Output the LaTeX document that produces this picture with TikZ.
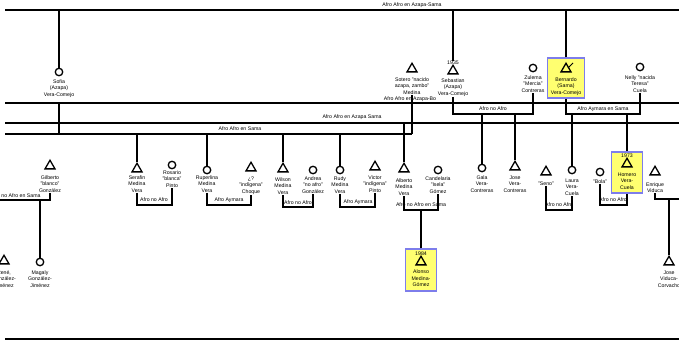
\documentclass[tikz,border=0pt]{standalone}
\usepackage{fontspec}
\setmainfont{Liberation Sans}
\usetikzlibrary{shapes.geometric}
\definecolor{boxyellow}{RGB}{255,255,112}
\definecolor{boxblue}{RGB}{125,125,235}
\tikzset{
  mainline/.style={line width=1.5pt},
  conn/.style={line width=1.25pt},
  brk/.style={line width=1.1pt},
  male/.style={draw, regular polygon, regular polygon sides=3, minimum size=11.5pt, inner sep=0pt, line width=1.3pt},
  female/.style={draw, circle, minimum size=7.5pt, inner sep=0pt, line width=1.3pt},
  txt/.style={font=\fontsize{5.2}{6.6}\selectfont, align=center, inner sep=0.3pt},
  lab/.style={font=\fontsize{5.2}{6.6}\selectfont, inner sep=0.3pt},
  ybox/.style={draw=boxblue, fill=boxyellow, line width=1.1pt, inner sep=0pt},
}
% symbol node, then its caption below: style, name, x, y, caption top, caption
\newcommand{\pers}[6]{%
  \node[#1] (#2) at (#3,#4) {};
  \node[txt, anchor=north] (#2-t) at (#3,#5) {#6};}
\begin{document}
\begin{tikzpicture}[x=1pt,y=-1pt]
\useasboundingbox (0,0) rectangle (679,345);
\clip (0,0) rectangle (679,345);
\fill[white] (0,0) rectangle (679,345);

% long family lines
\coordinate (h1w) at (5,10);   \coordinate (h1e) at (679,10);
\coordinate (h2w) at (5,103);  \coordinate (h2e) at (679,103);
\coordinate (h3w) at (5,123);  \coordinate (h3e) at (679,123);
\coordinate (h4w) at (5,134);  \coordinate (h4e) at (412,134);
\coordinate (bw) at (5,339);   \coordinate (be) at (679,339);
\draw[mainline] (h1w) -- (h1e);
\draw[mainline] (h2w) -- (h2e);
\draw[mainline] (h3w) -- (h3e);
\draw[mainline] (h4w) -- (h4e);
\draw[mainline] (bw) -- (be);
\node[lab] (h1l) at (412,5.5) {Afro Afro en Azapa-Sama};
\node[lab] (h2l) at (410,99) {Afro Afro en Azapa-Bo};
\node[lab] (h3l) at (352,117) {Afro Afro en Azapa Sama};
\node[lab] (h4l) at (240,129) {Afro Afro en Sama};

% top generation
\pers{female}{sofia}{59}{72}{78.8}{Sofia\\(Azapa)\\Vera-Comejo}
\pers{male}{sotero}{412}{69}{76.8}{Sotero "nacido\\azapa, zambo"\\Medina}
\node[txt] (seb-y) at (453,63) {1935};
\pers{male}{sebastian}{453}{71}{77.8}{Sebastian\\(Azapa)\\Vera-Comejo}
\pers{female}{zulema}{533}{68}{74.8}{Zulema\\"Mercia"\\Contreras}
\node[ybox, minimum width=37pt, minimum height=40pt] (bern-b) at (566,78) {};
\pers{male}{bernardo}{566}{69}{76.8}{Bernardo\\(Sama)\\Vera-Comejo}
\draw[line width=0.8pt] (bernardo.center) ++(2,-1) -- ++(5,-5);
\pers{female}{nelly}{640}{67}{74.8}{Nelly "nacida\\Teresa"\\Cuela}

\draw[conn] (sofia.north) -- (sofia.north |- h1w);
\draw[conn] (seb-y.north) -- (seb-y.north |- h1w);
\draw[conn] (bern-b.north) -- (bern-b.north |- h1w);
\draw[conn] (sofia-t.south |- h2w) -- (sofia-t.south |- h4w);
\draw[conn] (sotero-t.south) -- (sotero-t.south |- h4w);

% couples of the top generation
\coordinate (sz) at (493,114);
\draw[brk] (sebastian-t.south) -- (sebastian-t.south |- sz) -- (zulema-t.south |- sz) -- (zulema-t.south);
\node[lab] (szl) at (493,109) {Afro no Afro};
\coordinate (bn) at (603,114);
\draw[brk] (bern-b.south) -- (bern-b.south |- bn) -- (nelly-t.south |- bn) -- (nelly-t.south);
\node[lab] (bnl) at (603,109) {Afro Aymara en Sama};

% second generation
\pers{male}{gilberto}{50}{166}{174.8}{Gilberto\\"blanco"\\González}
\pers{male}{serafin}{137}{169}{174.8}{Serafin\\Medina\\Vera}
\pers{female}{rosario}{172}{165}{169.8}{Rosario\\"blanca"\\Pinto}
\pers{female}{ruperlina}{207}{170}{174.8}{Ruperlina\\Medina\\Vera}
\pers{male}{desc}{251}{168}{176}{¿?\\"indígena"\\Choque}
\pers{male}{wilson}{283}{169}{177}{Wilson\\Medina\\Vera}
\pers{female}{andrea}{313}{170}{176}{Andrea\\"no afro"\\González}
\pers{female}{rudy}{340}{170}{176}{Rudy\\Medina\\Vera}
\pers{male}{victor}{375}{167}{175}{Victor\\"indígena"\\Pinto}
\pers{male}{alberto}{404}{169}{178}{Alberto\\Medina\\Vera}
\pers{female}{candelaria}{438}{170}{176}{Candelaria\\"Isela"\\Gómez}
\pers{female}{gala}{482}{168}{175}{Gala\\Vera-\\Contreras}
\pers{male}{josevc}{515}{167}{175}{Jose\\Vera-\\Contreras}
\pers{male}{seno}{546}{172}{181}{"Seno"}
\pers{female}{laura}{572}{170}{178}{Laura\\Vera-\\Cuela}
\pers{female}{bola}{600}{172}{179}{"Bola"}
\node[ybox, minimum width=31pt, minimum height=41pt] (hom-b) at (627,172.5) {};
\node[txt] (hom-y) at (627,156) {1973};
\pers{male}{homero}{627}{164}{172}{Homero\\Vera-\\Cuela}
\pers{male}{enrique}{655}{172}{182}{Enrique\\Viduca}

\draw[conn] (serafin.north) -- (serafin.north |- h4w);
\draw[conn] (ruperlina.north) -- (ruperlina.north |- h4w);
\draw[conn] (wilson.north) -- (wilson.north |- h4w);
\draw[conn] (rudy.north) -- (rudy.north |- h4w);
\draw[conn] (alberto.north) -- (alberto.north |- h3w);
\draw[conn] (gala.north) -- (gala.north |- sz);
\draw[conn] (josevc.north) -- (josevc.north |- sz);
\draw[conn] (laura.north) -- (laura.north |- bn);
\draw[conn] (hom-b.north) -- (hom-b.north |- bn);

% couples of the second generation
\coordinate (gm) at (0,200);
\draw[brk] (gilberto-t.south) -- (gilberto-t.south |- gm) -- (gm);
\node[lab, anchor=east] (gml) at (41,196) {Afro no Afro en Sama};
\coordinate (sr) at (154,205);
\draw[brk] (serafin-t.south) -- (serafin-t.south |- sr) -- (rosario-t.south |- sr) -- (rosario-t.south);
\node[lab] (srl) at (154,200) {Afro no Afro};
\coordinate (rd) at (229,205);
\draw[brk] (ruperlina-t.south) -- (ruperlina-t.south |- rd) -- (desc-t.south |- rd) -- (desc-t.south);
\node[lab] (rdl) at (229,200) {Afro Aymara};
\coordinate (wa) at (298,207);
\draw[brk] (wilson-t.south) -- (wilson-t.south |- wa) -- (andrea-t.south |- wa) -- (andrea-t.south);
\node[lab] (wal) at (298,202.5) {Afro no Afro};
\coordinate (rv) at (358,207);
\draw[brk] (rudy-t.south) -- (rudy-t.south |- rv) -- (victor-t.south |- rv) -- (victor-t.south);
\node[lab] (rvl) at (358,202.5) {Afro Aymara};
\coordinate (ac) at (421,210);
\draw[brk] (alberto-t.south) -- (alberto-t.south |- ac) -- (candelaria-t.south |- ac) -- (candelaria-t.south);
\node[lab] (acl) at (421,205) {Afro no Afro en Sama};
\coordinate (sl) at (559,210);
\draw[brk] (seno-t.south) -- (seno-t.south |- sl) -- (laura-t.south |- sl) -- (laura-t.south);
\node[lab] (sll) at (559,205) {Afro no Afro};
\coordinate (bh) at (613,205);
\draw[brk] (bola-t.south) -- (bola-t.south |- bh) -- (hom-b.south |- bh) -- (hom-b.south);
\node[lab] (bhl) at (613,200) {Afro no Afro};
\coordinate (en) at (679,199);
\draw[brk] (enrique-t.south) -- (enrique-t.south |- en) -- (en);

% third generation
\pers{male}{rene}{4}{261}{270}{René,\\González-\\Jiménez}
\pers{female}{magaly}{40}{262}{270}{Magaly\\González-\\Jiménez}
\node[ybox, minimum width=31pt, minimum height=42pt] (alo-b) at (421,270) {};
\node[txt] (alo-y) at (421,254) {1984};
\pers{male}{alonso}{421}{262}{269.5}{Alonso\\Medina-\\Gómez}
\pers{male}{josevd}{669}{262}{270}{Jose\\Viduca-\\Corvacho}

\draw[conn] (magaly.north) -- (magaly.north |- gm);
\draw[conn] (alo-b.north) -- (alo-b.north |- ac);
\draw[conn] (josevd.north) -- (josevd.north |- en);
\end{tikzpicture}
\end{document}
